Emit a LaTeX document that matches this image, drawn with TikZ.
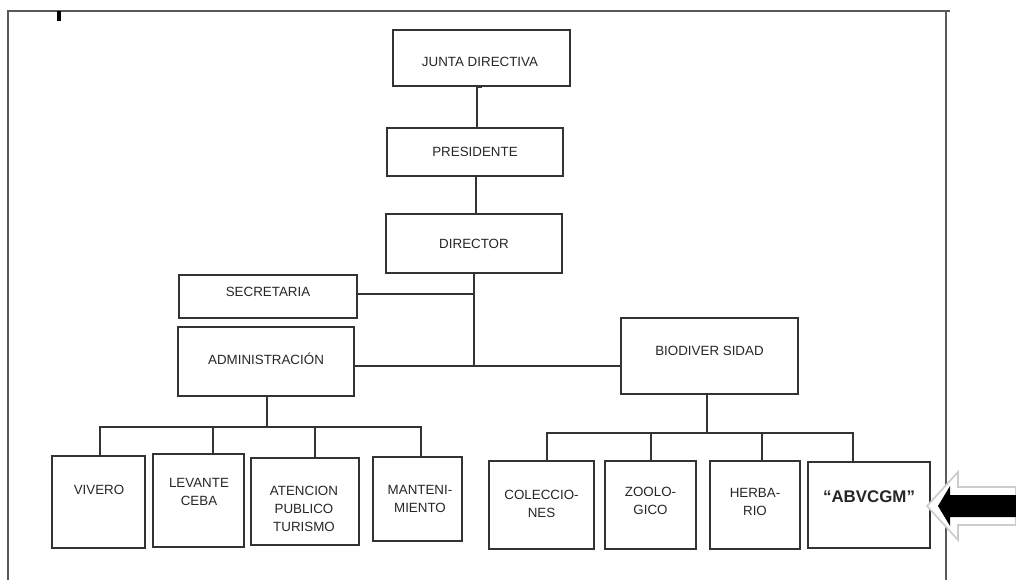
\documentclass[tikz,border=0pt]{standalone}
\usepackage{fontspec}
\setmainfont{Liberation Sans}
\usepackage{tikz}

\begin{document}
\begin{tikzpicture}[x=0.025cm, y=-0.025cm,
    line width=1.3pt, draw=black!80,
    cargo/.style={draw=black!80, line width=1.3pt, inner sep=0pt},
    txt/.style={text=black!85, align=center, font=\fontsize{9.5}{13}\selectfont},
    grande/.style={text=black!85, font=\fontsize{12}{14}\selectfont\bfseries}]
         \useasboundingbox (0,0) rectangle (1016,580);
         % marco de la hoja
         \draw[black!65] (8,580) -- (8,11) -- (950,11);
         \draw[black!65] (946,11) -- (946,580);
         \draw[black, line width=2.2pt] (59,11) -- (59,21);

         % nivel superior
         \node[cargo, minimum width=4.43cm, minimum height=1.4cm] (junta) at (481.5,58) {};
         \node[txt] (junta-t) at (480,62) {JUNTA DIRECTIVA};
         \node[cargo, minimum width=4.4cm, minimum height=1.2cm] (presidente) at (475,152) {};
         \node[txt] (presidente-t) at (475,152) {PRESIDENTE};
         \node[cargo, minimum width=4.4cm, minimum height=1.48cm] (director) at (474,243.5) {};
         \node[txt] (director-t) at (474,244) {DIRECTOR};
         \node[cargo, minimum width=4.45cm, minimum height=1.08cm] (secretaria) at (268,296.5) {};
         \node[txt] (secretaria-t) at (268,292) {SECRETARIA};
         \node[cargo, minimum width=4.4cm, minimum height=1.73cm] (admin) at (266,361.5) {};
         \node[txt] (admin-t) at (266,359) {ADMINISTRACIÓN};
         \node[cargo, minimum width=4.43cm, minimum height=1.9cm] (biodiv) at (709.5,356) {};
         \node[txt] (biodiv-t) at (709.5,351) {BIODIVER SIDAD};

         % areas de administracion
         \node[cargo, minimum width=2.33cm, minimum height=2.3cm] (vivero) at (98.5,502) {};
         \node[txt] (vivero-t) at (99,490) {VIVERO};
         \node[cargo, minimum width=2.28cm, minimum height=2.33cm] (levante) at (198.5,500.5) {};
         \node[txt] (levante-t) at (199,492) {LEVANTE\\CEBA};
         \node[cargo, minimum width=2.7cm, minimum height=2.18cm] (atencion) at (305,501.5) {};
         \node[txt] (atencion-t) at (304,509) {ATENCION\\PUBLICO\\TURISMO};
         \node[cargo, minimum width=2.23cm, minimum height=2.1cm] (manteni) at (417.5,499) {};
         \node[txt] (manteni-t) at (420,499) {MANTENI-\\MIENTO};

         % areas de biodiversidad
         \node[cargo, minimum width=2.63cm, minimum height=2.2cm] (colecc) at (541.5,505) {};
         \node[txt] (colecc-t) at (541.5,504) {COLECCIO-\\NES};
         \node[cargo, minimum width=2.28cm, minimum height=2.2cm] (zoolo) at (650.5,505) {};
         \node[txt] (zoolo-t) at (650.5,501) {ZOOLO-\\GICO};
         \node[cargo, minimum width=2.25cm, minimum height=2.2cm] (herba) at (755,505) {};
         \node[txt] (herba-t) at (755,502) {HERBA-\\RIO};
         \node[cargo, minimum width=3.05cm, minimum height=2.15cm] (abvcgm) at (869,505) {};
         \node[grande] (abvcgm-t) at (869,497) {“ABVCGM”};

         % lineas de mando
         \coordinate (hub) at (474,366);
         \coordinate (secbar) at (474,294);
         \coordinate (admbar) at (267,427);
         \coordinate (biobar) at (707,433);
         \draw (presidente.north) ++(2,0) |- (junta.south);
         \draw (director.north) ++(2,0) |- (presidente.south);
         \draw (director.south) -- (hub);
         \draw (secbar) -- (secbar -| secretaria.east);
         \draw (admin.east |- hub) -- (biodiv.west |- hub);
         \draw (admbar) -- (admbar |- admin.south);
         \draw (biobar) -- (biobar |- biodiv.south);
         \foreach \b/\dx in {vivero/1.5, levante/14.5, atencion/10, manteni/3.5}
            \draw (\b.north) ++(\dx,0) |- (admbar);
         \foreach \b/\dx in {colecc/5.5, zoolo/0.5, herba/7, abvcgm/-16}
            \draw (\b.north) ++(\dx,0) |- (biobar);

         % flecha que senala
         \draw[gray!40, line width=1.2pt, fill=white] (927,506) -- (958,472) -- (958,487) -- (1016,487)
              -- (1016,525) -- (958,525) -- (958,540) -- cycle;
         \fill[black] (938,506) -- (950,486) -- (950,495) -- (1016,495) -- (1016,517) -- (950,517)
              -- (950,526) -- cycle;
        \end{tikzpicture}
\end{document}
